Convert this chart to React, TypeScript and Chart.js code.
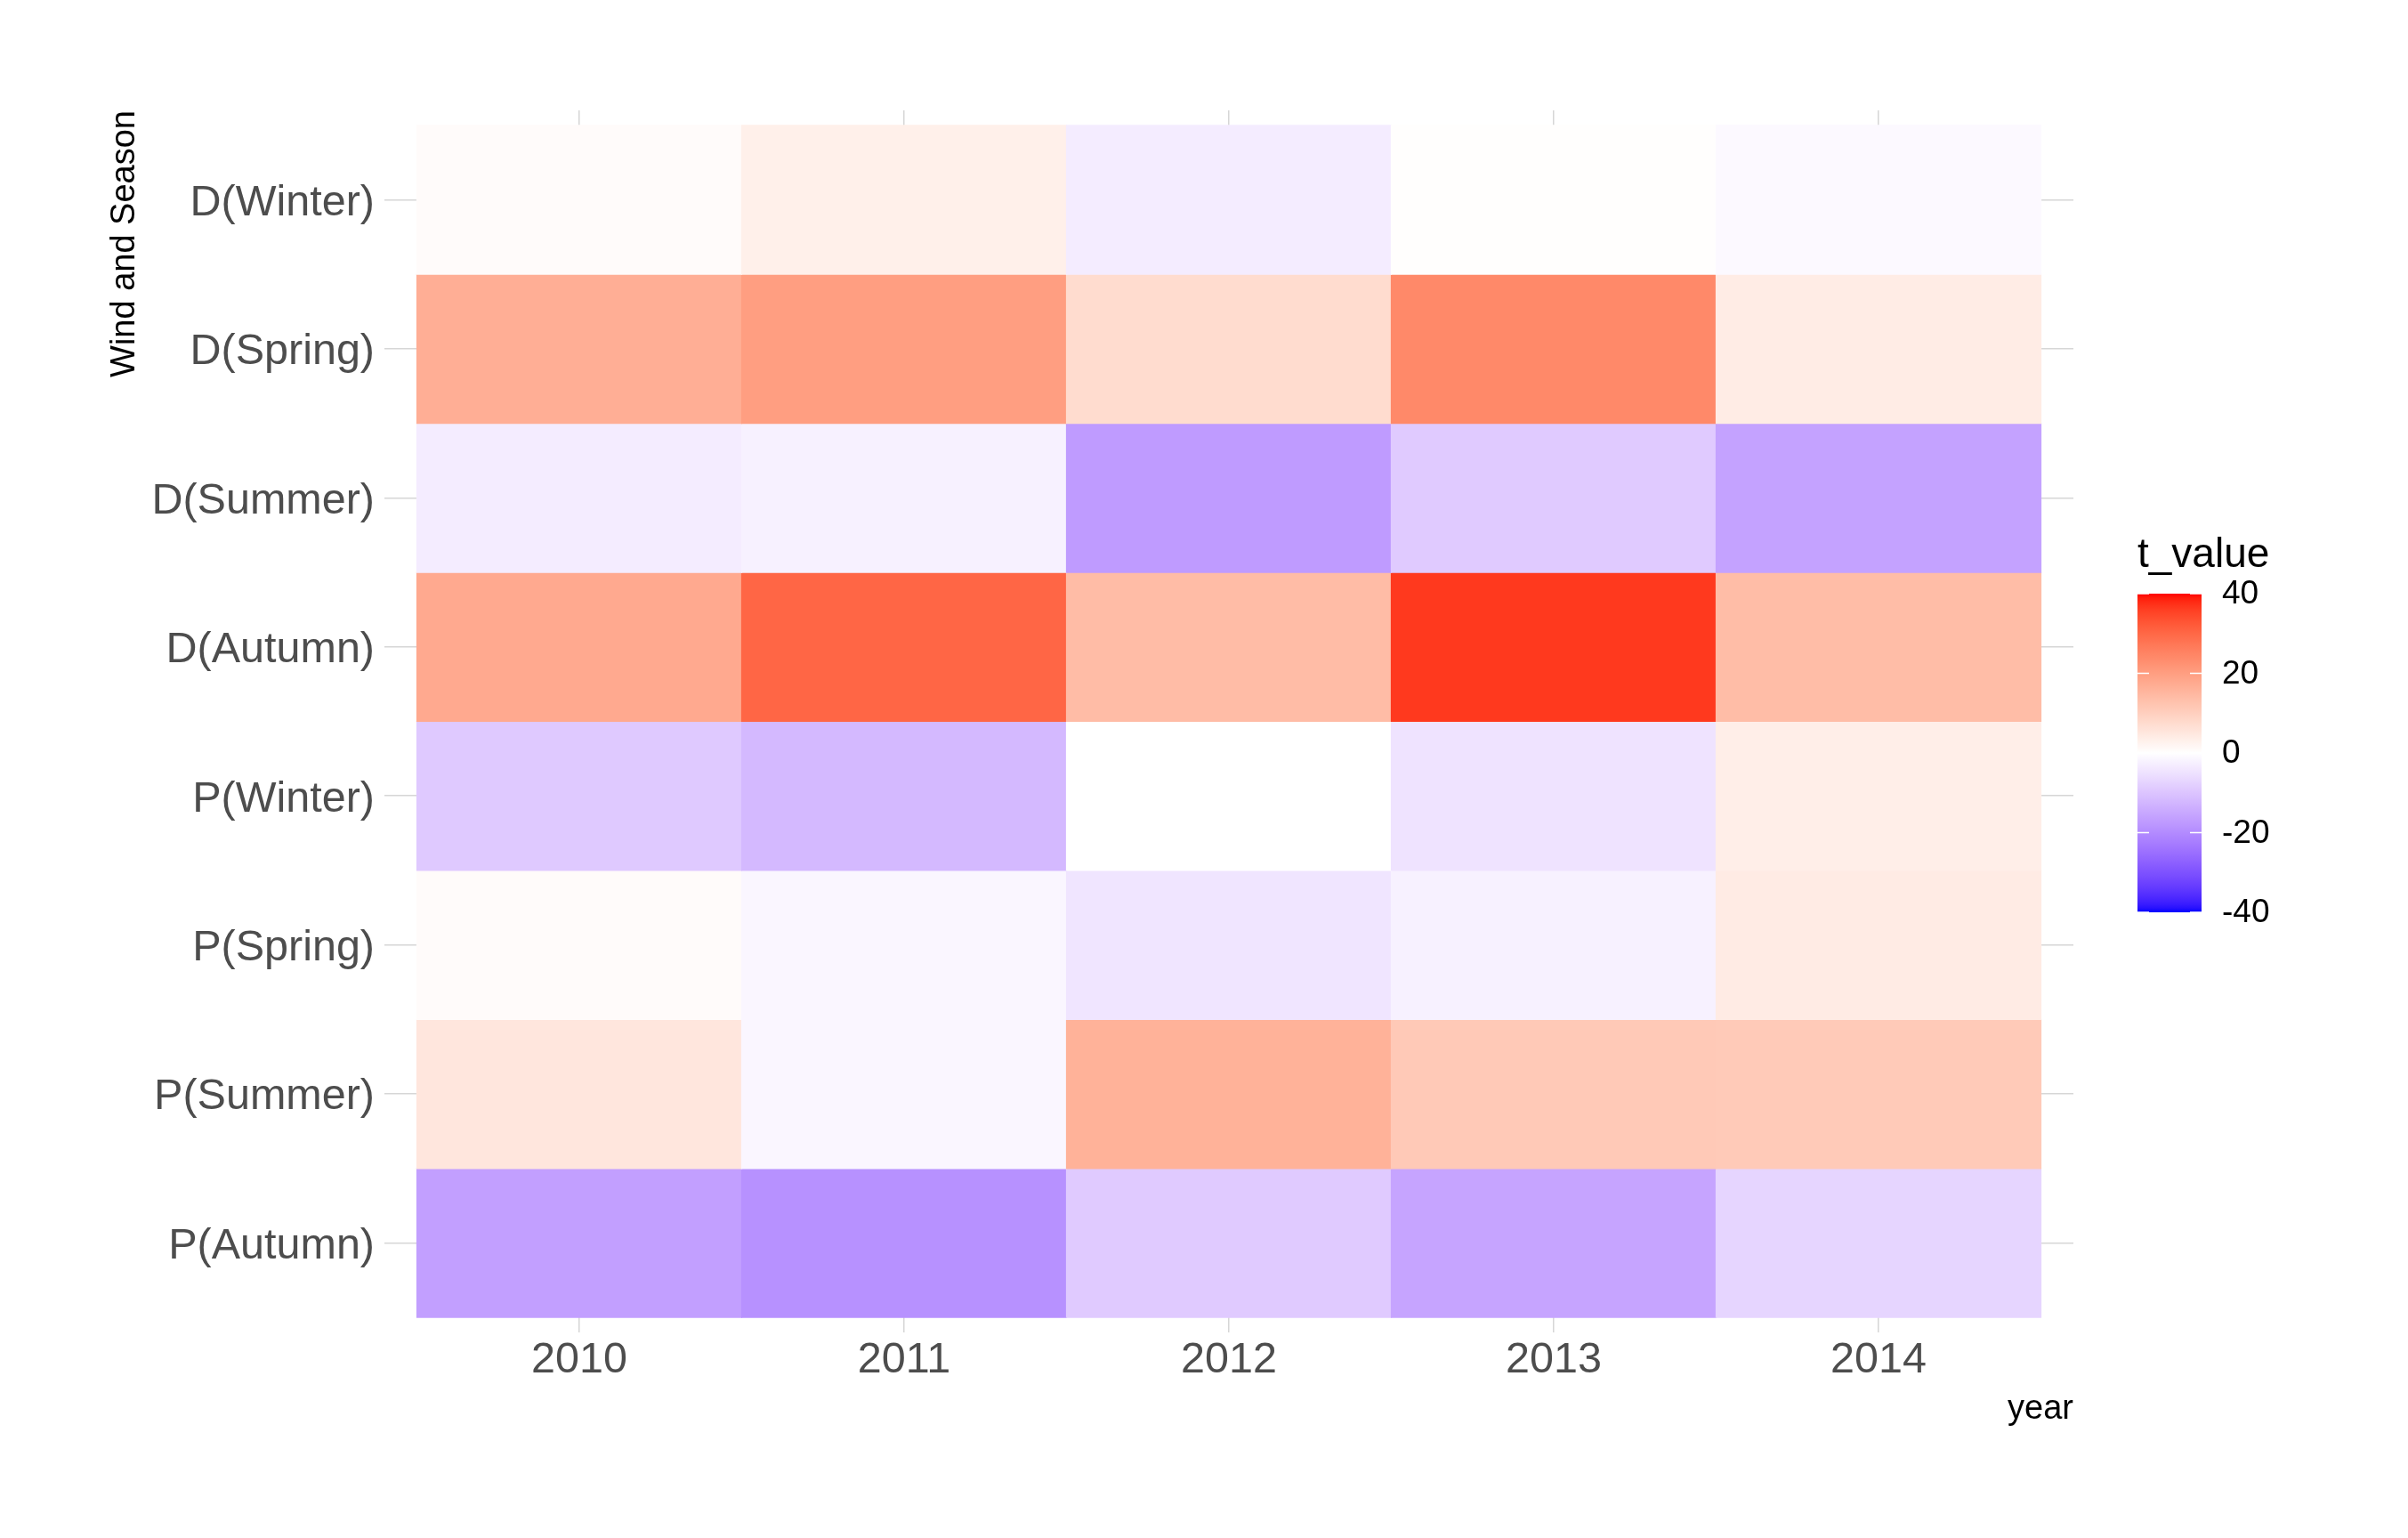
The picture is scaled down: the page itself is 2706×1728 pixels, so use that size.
import React, { useEffect, useRef } from 'react';
import { Chart, registerables } from 'chart.js';

Chart.register(...registerables);

// ---------- data ----------
const years = ['2010', '2011', '2012', '2013', '2014'];
const rowLabels = ['D(Winter)', 'D(Spring)', 'D(Summer)', 'D(Autumn)', 'P(Winter)', 'P(Spring)', 'P(Summer)', 'P(Autumn)'];

const dWinter = [0.8, 3.2, -3.2, 0.3, -1.0];
const dSpring = [16.8, 20.0, 7.4, 24.0, 4.0];
const dSummer = [-3.3, -2.4, -17.3, -9.0, -16.0];
const dAutumn = [17.8, 30.2, 14.0, 36.5, 13.8];
const pWinter = [-9.2, -12.0, 0.0, -4.8, 3.6];
const pSpring = [0.8, -1.5, -4.4, -2.4, 4.2];
const pSummer = [5.2, -1.5, 16.0, 11.2, 11.0];
const pAutumn = [-16.6, -19.0, -9.0, -15.6, -7.2];

const rowValues = [dWinter, dSpring, dSummer, dAutumn, pWinter, pSpring, pSummer, pAutumn];

const legendTitle = 't_value';
const legendBreaks = [40, 20, 0, -20, -40];
const LIMIT = 40;

const xTitle = 'year';
const yTitle = 'Wind and Season';

// ---------- colour scale (Lab interpolation, like ggplot2 gradient2) ----------
const WHITE = [100, 0, 0];
const RED = [53.2408, 80.0925, 67.2032];
const BLUE = [32.297, 79.1875, -107.8602];

function labToRgb(L: number, a: number, b: number): string {
  const fy = (L + 16) / 116;
  const fx = fy + a / 500;
  const fz = fy - b / 200;
  const d = 6 / 29;
  const finv = (t: number) => (t > d ? t * t * t : 3 * d * d * (t - 4 / 29));
  const X = 0.95047 * finv(fx);
  const Y = finv(fy);
  const Z = 1.08883 * finv(fz);
  const r = 3.2404542 * X - 1.5371385 * Y - 0.4985314 * Z;
  const g = -0.969266 * X + 1.8760108 * Y + 0.041556 * Z;
  const bl = 0.0556434 * X - 0.2040259 * Y + 1.0572252 * Z;
  const gam = (c: number) => {
    const v = Math.max(0, Math.min(1, c));
    return Math.round(255 * (v <= 0.0031308 ? 12.92 * v : 1.055 * Math.pow(v, 1 / 2.4) - 0.055));
  };
  return `rgb(${gam(r)},${gam(g)},${gam(bl)})`;
}

function colorFor(v: number): string {
  const f = Math.max(-1, Math.min(1, v / LIMIT));
  const end = f >= 0 ? RED : BLUE;
  const t = Math.abs(f);
  return labToRgb(
    WHITE[0] + (end[0] - WHITE[0]) * t,
    WHITE[1] + (end[1] - WHITE[1]) * t,
    WHITE[2] + (end[2] - WHITE[2]) * t
  );
}

const FONT = '"Liberation Sans", Arial, Helvetica, sans-serif';

const colorbarPlugin = {
  id: 'colorbar',
  afterDraw(chart: any) {
    const ctx = chart.ctx as CanvasRenderingContext2D;
    const x0 = 2402;
    const w = 72;
    const top = 667;
    const h = 358;
    const yOf = (v: number) => top + ((LIMIT - v) / (2 * LIMIT)) * h;
    ctx.save();
    const grad = ctx.createLinearGradient(0, top, 0, top + h);
    const n = 80;
    for (let i = 0; i <= n; i++) {
      const v = LIMIT - (i * 2 * LIMIT) / n;
      grad.addColorStop(i / n, colorFor(v));
    }
    ctx.fillStyle = grad;
    ctx.fillRect(x0, top, w, h);
    // white tick marks
    ctx.strokeStyle = '#ffffff';
    ctx.lineWidth = 1.5;
    legendBreaks.forEach((b) => {
      const y = yOf(b);
      ctx.beginPath();
      ctx.moveTo(x0, y);
      ctx.lineTo(x0 + 13, y);
      ctx.moveTo(x0 + w - 13, y);
      ctx.lineTo(x0 + w, y);
      ctx.stroke();
    });
    // labels
    ctx.fillStyle = '#000000';
    ctx.font = `37px ${FONT}`;
    ctx.textAlign = 'left';
    ctx.textBaseline = 'middle';
    legendBreaks.forEach((b) => {
      ctx.fillText(String(b), 2497, yOf(b) + 1);
    });
    // title
    ctx.font = `46px ${FONT}`;
    ctx.textBaseline = 'alphabetic';
    ctx.fillText(legendTitle, 2402, 637);
    ctx.restore();
  },
};

export default function App() {
  const canvasRef = useRef<HTMLCanvasElement | null>(null);

  useEffect(() => {
    if (!canvasRef.current) return;
    const nRows = rowLabels.length;
    const datasets = rowLabels.map((name, r) => {
      const yc = nRows - 1 - r;
      return {
        label: name,
        data: years.map((_, c) => ({ x: c, y: [yc - 0.5, yc + 0.5] })),
        backgroundColor: rowValues[r].map(colorFor),
        borderWidth: 0,
        inflateAmount: 0.6,
        barPercentage: 1,
        categoryPercentage: 1,
        grouped: false,
      };
    });

    const gridColor = '#D6D6D6';

    const chart = new Chart(canvasRef.current, {
      type: 'bar',
      data: { datasets: datasets as any },
      plugins: [colorbarPlugin],
      options: {
        animation: false,
        responsive: true,
        maintainAspectRatio: false,
        events: [],
        layout: { padding: { left: 0, top: 124, right: 376, bottom: 0 } },
        plugins: {
          legend: { display: false },
          tooltip: { enabled: false },
        },
        scales: {
          x: {
            type: 'linear',
            min: -0.6,
            max: 4.6,
            bounds: 'data',
            offset: false,
            grid: { color: gridColor, lineWidth: 1.5, drawTicks: false, offset: false },
            border: { display: false },
            afterBuildTicks: (scale: any) => {
              scale.ticks = years.map((_, i) => ({ value: i }));
            },
            afterFit: (scale: any) => {
              scale.height = 231;
            },
            ticks: {
              autoSkip: false,
              maxRotation: 0,
              padding: 3,
              color: '#4D4D4D',
              font: { family: FONT, size: 48.5 },
              callback: (v: any) => years[Math.round(Number(v))] ?? '',
            },
            title: {
              display: true,
              text: xTitle,
              align: 'end',
              color: '#000000',
              font: { family: FONT, size: 38 },
              padding: { top: 0, bottom: 122 },
            },
          },
          y: {
            type: 'linear',
            min: -0.6,
            max: 7.6,
            bounds: 'data',
            offset: false,
            grid: { color: gridColor, lineWidth: 1.5, drawTicks: false, offset: false },
            border: { display: false },
            afterBuildTicks: (scale: any) => {
              scale.ticks = rowLabels.map((_, i) => ({ value: i }));
            },
            afterFit: (scale: any) => {
              scale.width = 432;
            },
            ticks: {
              autoSkip: false,
              padding: 11,
              labelOffset: 4,
              color: '#4D4D4D',
              font: { family: FONT, size: 48.5 },
              callback: (v: any) => rowLabels[nRows - 1 - Math.round(Number(v))] ?? '',
            },
            title: {
              display: true,
              text: yTitle,
              align: 'end',
              color: '#000000',
              font: { family: FONT, size: 38 },
              padding: { top: 118, bottom: 0 },
            },
          },
        },
      } as any,
    });

    return () => chart.destroy();
  }, []);

  return (
    <div style={{ position: 'absolute', left: 0, top: 0, width: 2706, height: 1728, background: '#ffffff' }}>
      <canvas ref={canvasRef} />
    </div>
  );
}
